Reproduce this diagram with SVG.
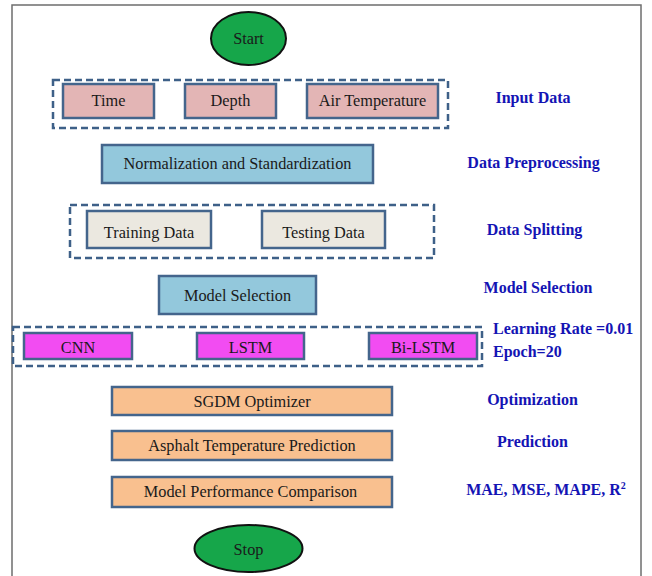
<svg xmlns="http://www.w3.org/2000/svg" width="652" height="576" viewBox="0 0 652 576">
<defs>
<style>
.frame{fill:#ffffff;stroke:#6e6e6e;stroke-width:1.5}
.term{fill:#16a64a;stroke:#111;stroke-width:2}
.box{stroke:#44658c;stroke-width:2.5}
.pink{fill:#e3b5b5}
.blue{fill:#93c8dc}
.beige{fill:#ebe8e0}
.mag{fill:#f24cf2}
.peach{fill:#f9c08f}
.dash{fill:none;stroke:#3e6088;stroke-width:2.5;stroke-dasharray:7 4}
.t{font-family:"Liberation Serif","Times New Roman",serif;font-size:16.3px;fill:#1a1a1a;text-anchor:middle}
.lbl{font-family:"Liberation Serif","Times New Roman",serif;font-size:16px;font-weight:bold;fill:#1414b4;text-anchor:middle}
.lbll{font-family:"Liberation Serif","Times New Roman",serif;font-size:16px;font-weight:bold;fill:#1414b4}
</style>
</defs>
<rect x="12" y="5" width="629" height="590" class="frame"/>

<g id="connectors"></g>

<g id="start">
<ellipse cx="248.5" cy="38.5" rx="37.5" ry="26.5" class="term"/>
<text x="248.5" y="44" class="t">Start</text>
</g>

<g id="input-data">
<rect x="53" y="80" width="395" height="48" class="dash"/>
<g id="time"><rect x="63" y="84" width="91" height="34" class="box pink"/><text x="108.5" y="106" class="t">Time</text></g>
<g id="depth"><rect x="185" y="84" width="91" height="34" class="box pink"/><text x="230.5" y="106" class="t">Depth</text></g>
<g id="air-temp"><rect x="307" y="84" width="131" height="34" class="box pink"/><text x="372.5" y="106" class="t">Air Temperature</text></g>
<text x="533" y="103" class="lbl">Input Data</text>
</g>

<g id="preprocessing">
<rect x="102" y="145" width="271" height="38" class="box blue"/>
<text x="237.5" y="169" class="t">Normalization and Standardization</text>
<text x="533.5" y="168" class="lbl">Data Preprocessing</text>
</g>

<g id="splitting">
<rect x="70" y="205" width="364" height="53" class="dash"/>
<g id="training"><rect x="87" y="211" width="124" height="37" class="box beige"/><text x="149" y="238" class="t">Training Data</text></g>
<g id="testing"><rect x="262" y="211" width="123" height="37" class="box beige"/><text x="323.5" y="238" class="t">Testing Data</text></g>
<text x="534.5" y="235" class="lbl">Data Splitting</text>
</g>

<g id="model-selection">
<rect x="159" y="276" width="157" height="38" class="box blue"/>
<text x="237.5" y="301" class="t">Model Selection</text>
<text x="538" y="293" class="lbl">Model Selection</text>
</g>

<g id="models">
<rect x="13" y="327" width="469" height="39" class="dash"/>
<g id="cnn"><rect x="24" y="333" width="108" height="26" class="box mag"/><text x="78" y="353" class="t">CNN</text></g>
<g id="lstm"><rect x="197" y="333" width="107" height="26" class="box mag"/><text x="250.5" y="353" class="t">LSTM</text></g>
<g id="bilstm"><rect x="369" y="333" width="108" height="26" class="box mag"/><text x="423" y="353" class="t">Bi-LSTM</text></g>
<text x="493" y="334" class="lbll">Learning Rate =0.01</text>
<text x="493" y="357" class="lbll">Epoch=20</text>
</g>

<g id="optimizer">
<rect x="112" y="387" width="280" height="28" class="box peach"/>
<text x="252" y="407" class="t">SGDM Optimizer</text>
<text x="532.5" y="405" class="lbl">Optimization</text>
</g>

<g id="prediction">
<rect x="112" y="431" width="280" height="29" class="box peach"/>
<text x="252" y="451" class="t">Asphalt Temperature Prediction</text>
<text x="532.5" y="447" class="lbl">Prediction</text>
</g>

<g id="comparison">
<rect x="112" y="477" width="280" height="30" class="box peach"/>
<text x="250.5" y="497" class="t">Model Performance Comparison</text>
<text x="546" y="495" class="lbl">MAE, MSE, MAPE, R<tspan dy="-6" style="font-size:10px">2</tspan></text>
</g>

<g id="stop">
<ellipse cx="248.5" cy="548.5" rx="54" ry="23.5" class="term"/>
<text x="248.5" y="555" class="t">Stop</text>
</g>
</svg>
